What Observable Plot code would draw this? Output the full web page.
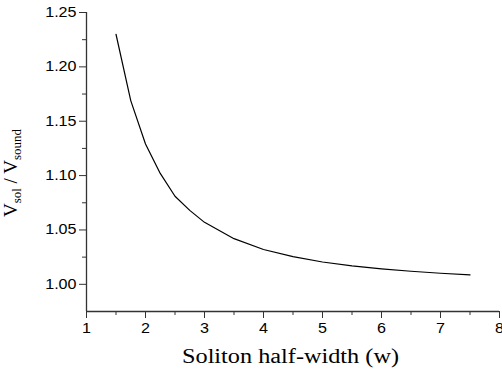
<!DOCTYPE html>
<html>
<head>
<meta charset="utf-8">
<script src="https://cdn.jsdelivr.net/npm/d3@7"></script>
<script src="https://cdn.jsdelivr.net/npm/@observablehq/plot@0.6"></script>
<style>
  html, body { margin: 0; padding: 0; background: #fff; }
  #chart svg { display: block; }
</style>
</head>
<body>
<div id="chart"></div>
<script>
// Soliton velocity (relative to the sound speed) versus soliton half-width
const halfWidth = [1.50, 1.75, 2.00, 2.25, 2.50, 2.75, 3.00, 3.50, 4.00, 4.50, 5.00, 5.50, 6.00, 6.50, 7.00, 7.50];
const velocityRatio = [1.230, 1.169, 1.129, 1.102, 1.081, 1.068, 1.057, 1.042, 1.032, 1.0255, 1.0205, 1.017, 1.0142, 1.012, 1.0102, 1.0086];

const xMajor = [1, 2, 3, 4, 5, 6, 7, 8];
const xMinor = [1.5, 2.5, 3.5, 4.5, 5.5, 6.5, 7.5];
const yMajor = [1.00, 1.05, 1.10, 1.15, 1.20, 1.25];
const yMinor = [1.025, 1.075, 1.125, 1.175, 1.225];

const xTitle = "Soliton half-width (w)";

const data = halfWidth.map((w, i) => ({w, v: velocityRatio[i]}));

const axisColor = "#333";
const tickFont = "Liberation Sans, Arial, sans-serif";

const chart = Plot.plot({
  width: 502,
  height: 380,
  marginLeft: 86,
  marginRight: 3,
  marginTop: 12,
  marginBottom: 69,
  style: {background: "#fff", fontFamily: tickFont, fontSize: "14px", color: "#000"},
  x: {domain: [1, 8]},
  y: {domain: [0.975, 1.25]},
  marks: [
    Plot.axisX(xMajor, {tickSize: 7, tickPadding: 5, fontSize: 14, label: null, stroke: axisColor, fill: "#000", tickFormat: d3.format("d")}),
    Plot.axisX(xMinor, {tickSize: 4, label: null, stroke: axisColor, tickFormat: () => ""}),
    Plot.axisY(yMajor, {tickSize: 7, tickPadding: 3, fontSize: 14, label: null, stroke: axisColor, fill: "#000", tickFormat: d3.format(".2f")}),
    Plot.axisY(yMinor, {tickSize: 4, label: null, stroke: axisColor, tickFormat: () => ""}),
    Plot.ruleY([0.975], {stroke: axisColor, strokeWidth: 1.3}),
    Plot.ruleX([1], {stroke: axisColor, strokeWidth: 1.3}),
    Plot.line(data, {x: "w", y: "v", stroke: "#000", strokeWidth: 1.2, curve: "linear"})
  ]
});

document.getElementById("chart").appendChild(chart);

const svg = d3.select(chart);

// widen the tick labels slightly (wide sans face)
svg.selectAll("g[aria-label='x-axis tick label'] text, g[aria-label='y-axis tick label'] text").each(function() {
  const len = this.getComputedTextLength();
  if (len > 0) {
    this.setAttribute("textLength", (len * 1.15).toFixed(2));
    this.setAttribute("lengthAdjust", "spacingAndGlyphs");
  }
});

// x-axis title
const xt = svg.append("text")
  .attr("x", 290.5)
  .attr("y", 363)
  .attr("text-anchor", "middle")
  .style("font-family", "Liberation Serif, Times New Roman, serif")
  .style("font-size", "20px")
  .attr("fill", "#000")
  .text(xTitle);
xt.attr("textLength", 217).attr("lengthAdjust", "spacingAndGlyphs");

// y-axis title with subscripts
const yt = svg.append("text")
  .attr("transform", "translate(17,173) rotate(-90)")
  .attr("text-anchor", "middle")
  .style("font-family", "Liberation Serif, Times New Roman, serif")
  .style("font-size", "19px")
  .attr("fill", "#000");
yt.append("tspan").text("V");
yt.append("tspan").attr("dy", 4).style("font-size", "13px").text("sol");
yt.append("tspan").attr("dy", -4).text(" / V");
yt.append("tspan").attr("dy", 4).style("font-size", "13px").text("sound");
</script>
</body>
</html>
